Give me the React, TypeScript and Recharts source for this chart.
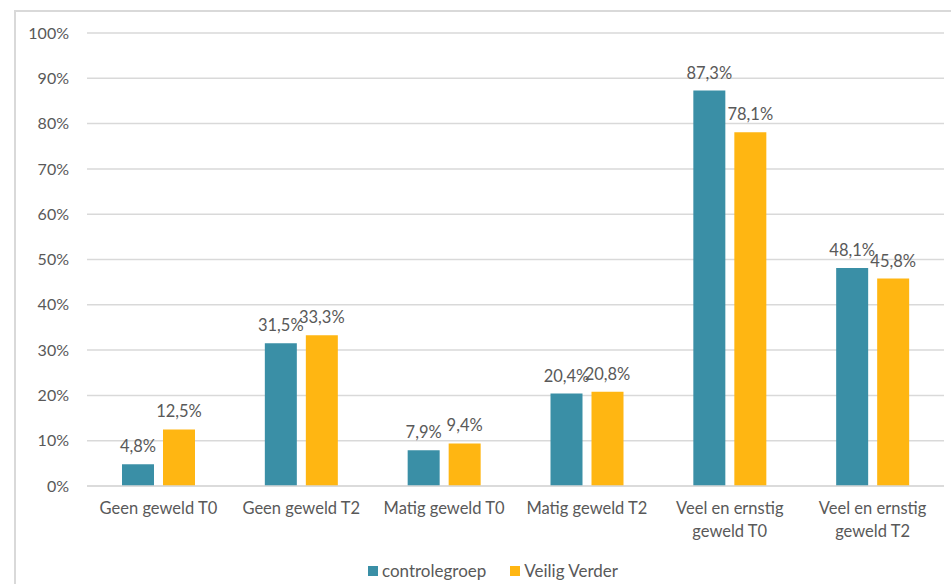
import React from "react";
import {
  BarChart,
  Bar,
  XAxis,
  YAxis,
  CartesianGrid,
  LabelList,
  Legend,
  Text,
} from "recharts";

const categories = [
  "Geen geweld T0",
  "Geen geweld T2",
  "Matig geweld T0",
  "Matig geweld T2",
  "Veel en ernstig geweld T0",
  "Veel en ernstig geweld T2",
];
const controlegroep = [4.8, 31.5, 7.9, 20.4, 87.3, 48.1];
const veiligVerder = [12.5, 33.3, 9.4, 20.8, 78.1, 45.8];
const yTicks = [0, 10, 20, 30, 40, 50, 60, 70, 80, 90, 100];

const data = categories.map((name, i) => ({
  name,
  controlegroep: controlegroep[i],
  veilig: veiligVerder[i],
}));

const TEAL = "#3A8FA6";
const GOLD = "#FFB612";
const TEXT = "#595959";
const FONT = "Lato, 'Open Sans', sans-serif";

const pct = (v: number) => `${v.toFixed(1).replace(".", ",")}%`;

function CategoryTick(props: any) {
  const { x, y, payload } = props;
  return (
    <Text
      x={x}
      y={y}
      width={128}
      textAnchor="middle"
      verticalAnchor="start"
      lineHeight={23}
      fill={TEXT}
      style={{ fontSize: 16.5, fontFamily: FONT }}
    >
      {payload.value}
    </Text>
  );
}

function LegendRow() {
  const items = [
    { label: "controlegroep", color: TEAL },
    { label: "Veilig Verder", color: GOLD },
  ];
  return (
    <div
      style={{
        display: "flex",
        justifyContent: "center",
        gap: 24,
        fontFamily: FONT,
        fontSize: 17,
        color: TEXT,
      }}
    >
      {items.map((it) => (
        <div key={it.label} style={{ display: "flex", alignItems: "center" }}>
          <span
            style={{
              width: 10,
              height: 10,
              background: it.color,
              marginRight: 4,
              display: "inline-block",
            }}
          />
          {it.label}
        </div>
      ))}
    </div>
  );
}

export default function App() {
  return (
    <div
      style={{
        position: "fixed",
        left: 0,
        top: 0,
        width: 951,
        height: 584,
        overflow: "hidden",
        background: "#fff",
      }}
    >
      <div
        style={{
          position: "absolute",
          left: 14,
          top: 10,
          width: 960,
          height: 600,
          border: "2px solid #d9d9d9",
        }}
      />
      <div style={{ position: "absolute", left: 0, top: 0 }}>
        <BarChart
          width={951}
          height={584}
          data={data}
          margin={{ top: 33, right: 7, left: 0, bottom: 44 }}
          barSize={32}
          barGap={9}
        >
          <CartesianGrid vertical={false} stroke="#d9d9d9" strokeWidth={1.5} />
          <XAxis
            dataKey="name"
            axisLine={{ stroke: "#d9d9d9", strokeWidth: 1.5 }}
            tickLine={false}
            interval={0}
            tickMargin={10}
            tick={<CategoryTick />}
          />
          <YAxis
            width={87}
            domain={[0, 100]}
            ticks={yTicks}
            axisLine={false}
            tickLine={false}
            tickMargin={12}
            tickFormatter={(v: number) => `${v}%`}
            tick={{ fill: TEXT, fontSize: 16, fontFamily: FONT }}
          />
          <Legend
            verticalAlign="bottom"
            height={24}
            wrapperStyle={{ left: 14, width: 958, bottom: 0 }}
            content={() => <LegendRow />}
          />
          <Bar dataKey="controlegroep" fill={TEAL} isAnimationActive={false}>
            <LabelList
              dataKey="controlegroep"
              position="top"
              offset={12}
              formatter={(v: any) => pct(Number(v))}
              style={{ fill: TEXT, fontSize: 16.5, fontFamily: FONT }}
            />
          </Bar>
          <Bar dataKey="veilig" fill={GOLD} isAnimationActive={false}>
            <LabelList
              dataKey="veilig"
              position="top"
              offset={12}
              formatter={(v: any) => pct(Number(v))}
              style={{ fill: TEXT, fontSize: 16.5, fontFamily: FONT }}
            />
          </Bar>
        </BarChart>
      </div>
    </div>
  );
}
